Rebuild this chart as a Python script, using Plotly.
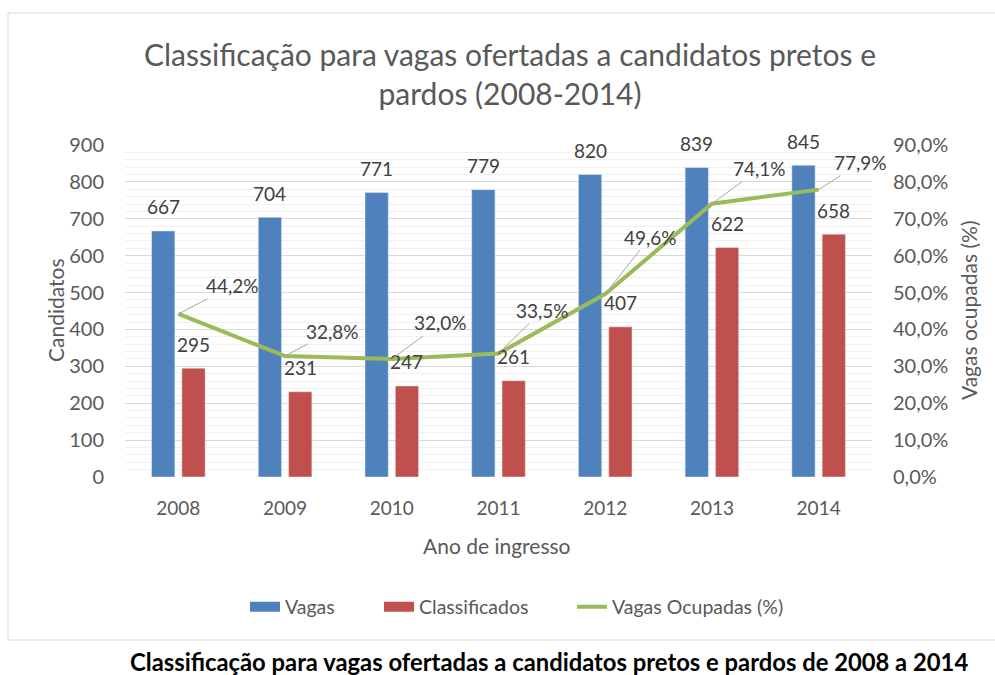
import plotly.graph_objects as go

anos = ["2008", "2009", "2010", "2011", "2012", "2013", "2014"]
vagas = [667, 704, 771, 779, 820, 839, 845]
classificados = [295, 231, 247, 261, 407, 622, 658]
ocupadas = [0.442, 0.328, 0.320, 0.335, 0.496, 0.741, 0.779]
# label offsets (px) for the percentage labels, as placed in the original
pct_dx = [54, 47, 49, 44, 45, 48, 42]
pct_dy = [-28, -25, -36, -43, -57, -35, -27]

W, H = 995, 675
L, R, T, B = 125, 872, 145, 477  # plot area in pixels

def px(x):
    return (x - L) / (R - L)

def py(y):
    return (B - y) / (B - T)

FONT = "Lato"
GRAY = "#595959"
DARK = "#404040"
BLUE = "#4F81BD"
RED = "#C0504D"
GREEN = "#9BBB59"

idx = list(range(len(anos)))
BW = 0.218
fig = go.Figure()
fig.add_trace(go.Bar(x=idx, y=vagas, name="Vagas", marker_color=BLUE,
                     width=BW, offset=-0.251, yaxis="y", showlegend=False))
fig.add_trace(go.Bar(x=idx, y=classificados, name="Classificados", marker_color=RED,
                     width=BW, offset=0.033, yaxis="y", showlegend=False))
fig.add_trace(go.Scatter(x=idx, y=ocupadas, name="Vagas Ocupadas (%)", mode="lines",
                         line=dict(color=GREEN, width=4), yaxis="y2", showlegend=False))
# legend entries (wide swatches like the original), each in its own legend box
fig.add_trace(go.Scatter(x=[None], y=[None], name="Vagas", mode="lines",
                         line=dict(color=BLUE, width=11), legend="legend"))
fig.add_trace(go.Scatter(x=[None], y=[None], name="Classificados", mode="lines",
                         line=dict(color=RED, width=11), legend="legend2"))
fig.add_trace(go.Scatter(x=[None], y=[None], name="Vagas Ocupadas (%)", mode="lines",
                         line=dict(color=GREEN, width=4), legend="legend3"))

cat_px = (R - L) / len(anos)
shift = (0.251 - BW / 2) * cat_px
ann = []
for i, v, c in zip(idx, vagas, classificados):
    ann.append(dict(x=i, y=v, xref="x", yref="y", text=str(v), showarrow=False,
                    xanchor="center", yanchor="middle",
                    xshift=-shift, yshift=24, font=dict(size=19, color=DARK, family=FONT)))
    ann.append(dict(x=i, y=c, xref="x", yref="y", text=str(c), showarrow=False,
                    xanchor="center", yanchor="middle",
                    xshift=shift, yshift=24, font=dict(size=19, color=DARK, family=FONT)))
for i, p, dx, dy in zip(idx, ocupadas, pct_dx, pct_dy):
    ann.append(dict(x=i, y=p, xref="x", yref="y2",
                    text=f"{p*100:.1f}%".replace(".", ","),
                    showarrow=True, arrowhead=0, arrowwidth=1, arrowcolor="#A6A6A6",
                    ax=dx, ay=dy, standoff=0,
                    font=dict(size=19, color=DARK, family=FONT)))

def txt(x, y, text, size, color, angle=0):
    return dict(x=px(x), y=py(y), xref="paper", yref="paper", text=text,
                textangle=angle, showarrow=False, xanchor="center", yanchor="middle",
                font=dict(size=size, color=color, family=FONT))

ann.append(txt(55, 310, "Candidatos", 21, GRAY, -90))
ann.append(txt(968, 310, "Vagas ocupadas (%)", 21, GRAY, -90))
ann.append(txt(497, 545, "Ano de ingresso", 21, GRAY))
ann.append(txt(549, 662,
               "<b>Classificação para vagas ofertadas a candidatos pretos e pardos de 2008 a 2014</b>",
               23.8, "#000000"))

def leg(xpix):
    return dict(orientation="h", x=px(xpix), xanchor="left", y=py(607), yanchor="middle",
                font=dict(size=19.5, color=GRAY), bgcolor="rgba(0,0,0,0)", borderwidth=0)

fig.update_layout(
    width=W, height=H,
    margin=dict(l=L, r=W - R, t=T, b=H - B, pad=0),
    paper_bgcolor="white", plot_bgcolor="white",
    separators=", ",
    barmode="overlay",
    font=dict(family=FONT, color=GRAY),
    title=dict(text="Classificação para vagas ofertadas a candidatos pretos e<br>pardos (2008-2014)",
               x=510 / W, xanchor="center", y=1 - 66 / H, yanchor="middle",
               font=dict(size=30, color=GRAY, family=FONT)),
    xaxis=dict(range=[-0.5, len(anos) - 0.5], tickvals=idx, ticktext=anos,
               showgrid=False, showline=False, zeroline=False, ticks="",
               tickfont=dict(size=19, color=GRAY), ticklabelstandoff=18),
    yaxis=dict(range=[0, 900], dtick=100, showgrid=True, gridcolor="#D9D9D9", gridwidth=1,
               minor=dict(dtick=20, showgrid=True, gridcolor="#F0F0F0", gridwidth=1),
               zeroline=False, showline=False, ticks="",
               tickfont=dict(size=20, color=GRAY), ticklabelstandoff=20),
    yaxis2=dict(range=[0, 0.9], dtick=0.1, tickformat=".1%", overlaying="y", side="right",
                showgrid=False, zeroline=False, showline=False, ticks="",
                tickfont=dict(size=20, color=GRAY), ticklabelstandoff=20),
    legend=leg(245),
    legend2=leg(379),
    legend3=leg(572),
    annotations=ann,
    shapes=[dict(type="rect", xref="paper", yref="paper",
                 x0=px(8), x1=px(1005), y0=py(640), y1=py(13),
                 line=dict(color="#D9D9D9", width=1), fillcolor="rgba(0,0,0,0)", layer="below")],
)

fig.write_html("out.html")
